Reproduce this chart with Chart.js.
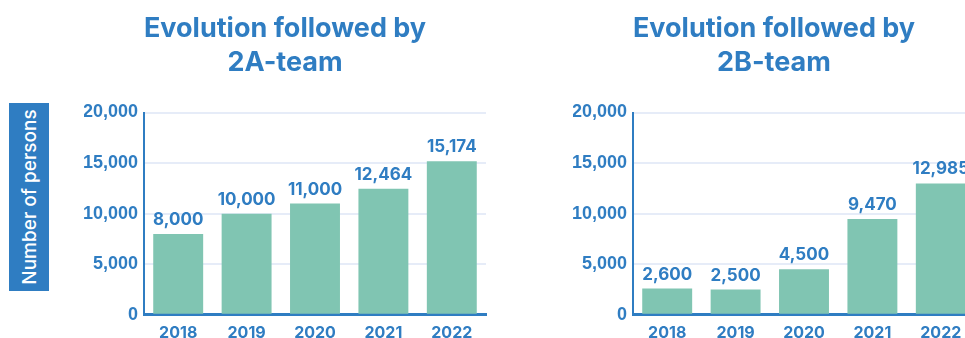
<!DOCTYPE html>
<html lang="en">
<head>
  <meta charset="UTF-8">
  <title>Evolution followed by team</title>
  <style>
    body {
      margin: 0;
      background: #ffffff;
      overflow: hidden;
      width: 965px;
      height: 338px;
      position: relative;
    }
    /* Rotated axis caption shared by both charts */
    .y-caption {
      position: absolute;
      left: 9px;
      top: 103px;
      width: 40px;
      height: 188px;
      background: #2f7dc2;
    }
    .y-caption span {
      position: absolute;
      left: 50%;
      top: 50%;
      transform: translate(-50%, -50%) rotate(-90deg);
      white-space: nowrap;
      color: #ffffff;
      font-family: Inter, "Liberation Sans", sans-serif;
      font-weight: 500;
      font-size: 19px;
    }
    .chart-box {
      position: absolute;
      top: 0;
      height: 352px;
    }
    #boxA { left: 80px; width: 409px; }
    #boxB { left: 569px; width: 420px; }
  </style>
</head>
<body>
  <div class="y-caption"><span>Number of persons</span></div>
  <div class="chart-box" id="boxA"><canvas id="chartA"></canvas></div>
  <div class="chart-box" id="boxB"><canvas id="chartB"></canvas></div>

  <script src="https://cdn.jsdelivr.net/npm/chart.js"></script>
  <script>
    // Data
    const years = ['2018', '2019', '2020', '2021', '2022'];
    const team2A = [8000, 10000, 11000, 12464, 15174];
    const team2B = [2600, 2500, 4500, 9470, 12985];
    const yTicks = [0, 5000, 10000, 15000, 20000];

    const BLUE = '#2f7dc2';
    const MINT = '#80c5b2';
    const GRID = '#e6ecf8';

    // Value written above each bar
    const barValues = {
      id: 'barValues',
      afterDatasetsDraw(chart) {
        const ctx = chart.ctx;
        const meta = chart.getDatasetMeta(0);
        const data = chart.data.datasets[0].data;
        ctx.save();
        ctx.fillStyle = BLUE;
        ctx.font = 'bold 17px Inter, "Liberation Sans", sans-serif';
        ctx.textAlign = 'center';
        ctx.textBaseline = 'alphabetic';
        meta.data.forEach((bar, i) => {
          ctx.fillText(data[i].toLocaleString('en-US'), bar.x, bar.y - 9);
        });
        ctx.restore();
      }
    };

    function makeChart(id, titleLines, values, padRight) {
      return new Chart(document.getElementById(id), {
        type: 'bar',
        data: {
          labels: years,
          datasets: [{
            data: values,
            backgroundColor: MINT,
            barPercentage: 0.73,
            categoryPercentage: 1
          }]
        },
        options: {
          responsive: true,
          maintainAspectRatio: false,
          animation: false,
          layout: { padding: { left: 4, right: padRight, top: 0, bottom: 0 } },
          plugins: {
            legend: { display: false },
            tooltip: { enabled: false },
            title: {
              display: true,
              text: titleLines,
              color: BLUE,
              font: { family: 'Inter, "Liberation Sans", sans-serif', size: 27, weight: 'bold', lineHeight: 1.25 },
              padding: { top: 12, bottom: 33 }
            }
          },
          scales: {
            x: {
              grid: { display: false, drawTicks: false },
              border: { color: BLUE, width: 3 },
              ticks: {
                color: BLUE,
                padding: 9,
                font: { family: 'Inter, "Liberation Sans", sans-serif', size: 16, weight: 'bold' }
              }
            },
            y: {
              min: 0,
              max: 20000,
              afterBuildTicks(scale) {
                scale.ticks = yTicks.map(v => ({ value: v }));
              },
              afterFit(scale) {
                scale.width = 60;
              },
              grid: { color: GRID, lineWidth: 2, drawTicks: false },
              border: { color: BLUE, width: 2 },
              ticks: {
                color: BLUE,
                padding: 6,
                font: { family: '"Liberation Sans", Arial, sans-serif', size: 18, weight: 'bold' },
                callback: v => v.toLocaleString('en-US')
              }
            }
          }
        },
        plugins: [barValues]
      });
    }

    makeChart('chartA', ['Evolution followed by', '2A-team'], team2A, 3);
    makeChart('chartB', ['Evolution followed by', '2B-team'], team2B, 14);
  </script>
</body>
</html>
